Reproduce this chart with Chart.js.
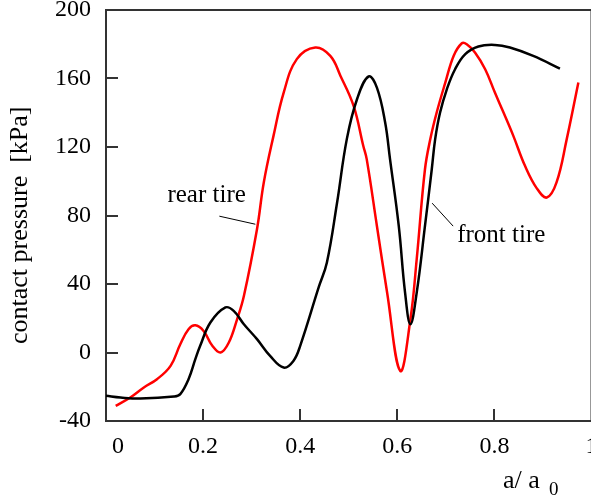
<!DOCTYPE html>
<html>
<head>
<meta charset="utf-8">
<script src="https://cdn.jsdelivr.net/npm/chart.js@4.4.1/dist/chart.umd.min.js"></script>
<style>
  html, body { margin: 0; padding: 0; background: #fff; overflow: hidden; }
  #wrap { width: 600px; height: 500px; }
</style>
</head>
<body>
<div id="wrap"><canvas id="c" width="600" height="500"></canvas></div>
<script>
// ---- data ----
const frontX = [0.000, 0.030, 0.071, 0.140, 0.153, 0.170, 0.184, 0.194, 0.215, 0.246, 0.263, 0.284, 0.311, 0.338, 0.366, 0.386, 0.400, 0.438, 0.455, 0.476, 0.496, 0.517, 0.541, 0.558, 0.575, 0.585, 0.603, 0.616, 0.627, 0.640, 0.657, 0.671, 0.678, 0.688, 0.702, 0.719, 0.740, 0.767, 0.801, 0.832, 0.880, 0.935];
const frontY = [-25.3, -26.3, -26.9, -25.7, -24.3, -15.6, -3.9, 3.9, 17.5, 26.3, 24.3, 16.5, 7.8, -2.0, -8.8, -4.9, 3.9, 38.0, 52.6, 87.6, 124.6, 147.9, 161.2, 154.7, 134.3, 112.9, 73.9, 35.0, 16.5, 35.0, 73.9, 107.0, 124.6, 140.0, 153.7, 165.4, 174.2, 178.7, 179.6, 178.1, 173.2, 165.8];

const rearX = [0.020, 0.050, 0.078, 0.105, 0.133, 0.153, 0.170, 0.184, 0.201, 0.219, 0.236, 0.253, 0.270, 0.284, 0.311, 0.325, 0.345, 0.366, 0.393, 0.431, 0.462, 0.483, 0.510, 0.530, 0.537, 0.558, 0.579, 0.606, 0.627, 0.640, 0.657, 0.668, 0.681, 0.699, 0.716, 0.733, 0.743, 0.760, 0.781, 0.801, 0.819, 0.839, 0.863, 0.887, 0.908, 0.928, 0.949, 0.973];
const rearY = [-31.2, -26.3, -20.4, -15.6, -7.8, 4.8, 13.6, 15.9, 12.6, 3.9, 0.0, 5.8, 19.4, 33.0, 72.0, 99.3, 126.5, 151.8, 171.3, 178.1, 173.2, 161.5, 144.0, 120.6, 112.9, 73.9, 35.0, -10.7, 19.4, 54.5, 107.0, 124.6, 140.0, 157.7, 173.2, 180.6, 180.0, 175.2, 165.4, 151.8, 140.0, 126.5, 109.0, 96.0, 90.5, 99.3, 124.6, 157.7];

const xTickValues = [0, 0.2, 0.4, 0.6, 0.8, 1];
const xTickLabels = ['0', '0.2', '0.4', '0.6', '0.8', '1'];
const yTickLabels = ['-40', '0', '40', '80', '120', '160', '200'];

const seriesNames = ['front tire', 'rear tire'];
const yTitle = 'contact pressure  [kPa]';

// ---- helpers ----
const toPoints = (xs, ys) => xs.map((x, i) => ({ x: x, y: ys[i] }));
const SERIF = '"Liberation Serif", "Times New Roman", serif';
const AX = '#333333';

const extras = {
  id: 'extras',
  afterDraw(chart) {
    const { ctx, chartArea: a, scales } = chart;
    const sx = scales.x, sy = scales.y;
    ctx.save();
    // top and right frame lines
    ctx.strokeStyle = AX;
    ctx.lineWidth = 2;
    ctx.beginPath();
    ctx.moveTo(a.left, a.top);
    ctx.lineTo(a.right, a.top);
    ctx.lineTo(a.right, a.bottom);
    ctx.stroke();

    // annotations with leader lines (data coordinates)
    ctx.fillStyle = '#000';
    ctx.strokeStyle = '#000';
    ctx.lineWidth = 1;
    ctx.font = '25px ' + SERIF;
    ctx.textBaseline = 'alphabetic';
    ctx.textAlign = 'left';
    ctx.fillText(seriesNames[1], sx.getPixelForValue(0.1265), sy.getPixelForValue(87.8));
    ctx.fillText(seriesNames[0], sx.getPixelForValue(0.7233), sy.getPixelForValue(64.4));
    ctx.beginPath();
    ctx.moveTo(sx.getPixelForValue(0.2335), sy.getPixelForValue(79.6));
    ctx.lineTo(sx.getPixelForValue(0.3076), sy.getPixelForValue(74.9));
    ctx.moveTo(sx.getPixelForValue(0.6718), sy.getPixelForValue(87.2));
    ctx.lineTo(sx.getPixelForValue(0.7150), sy.getPixelForValue(73.8));
    ctx.stroke();

    // x axis title a/ a0 with subscript
    ctx.font = '26px ' + SERIF;
    ctx.fillText('a/ a', 503, 488);
    ctx.font = '19px ' + SERIF;
    ctx.fillText('0', 549, 495);
    ctx.restore();
  }
};

new Chart(document.getElementById('c'), {
  type: 'line',
  data: {
    datasets: [
      {
        label: seriesNames[0],
        data: toPoints(frontX, frontY),
        borderColor: '#000000',
        borderWidth: 2.5,
        pointRadius: 0,
        tension: 0.4,
        fill: false
      },
      {
        label: seriesNames[1],
        data: toPoints(rearX, rearY),
        borderColor: '#ff0000',
        borderWidth: 2.5,
        pointRadius: 0,
        tension: 0.4,
        fill: false
      }
    ]
  },
  options: {
    responsive: false,
    animation: false,
    devicePixelRatio: 1,
    layout: { padding: { top: 10, right: 8.5, bottom: 0, left: 0 } },
    plugins: { legend: { display: false }, tooltip: { enabled: false } },
    scales: {
      x: {
        type: 'linear',
        min: 0,
        max: 1,
        afterBuildTicks(scale) { scale.ticks = xTickValues.map(v => ({ value: v })); },
        afterFit(scale) { scale.height = 79; scale.paddingLeft = 0; scale.paddingRight = 0; },
        ticks: {
          autoSkip: false,
          maxRotation: 0,
          padding: 23,
          color: '#000',
          font: { family: SERIF, size: 24, lineHeight: 1.2 },
          callback(v, i) { return i === 0 ? '    ' + xTickLabels[i] : xTickLabels[i]; }
        },
        grid: { drawOnChartArea: false, drawTicks: true, tickLength: -12, color: AX, lineWidth: 2, tickWidth: 2 },
        border: { display: true, color: AX, width: 2 }
      },
      y: {
        type: 'linear',
        min: -40,
        max: 200,
        ticks: {
          stepSize: 40,
          padding: 27,
          color: '#000',
          font: { family: SERIF, size: 24, lineHeight: 1.2 },
          callback(v, i) { return yTickLabels[i]; }
        },
        afterFit(scale) { scale.width = 106; scale.paddingTop = 0; scale.paddingBottom = 0; },
        grid: { drawOnChartArea: false, drawTicks: true, tickLength: -12, color: AX, lineWidth: 2, tickWidth: 2 },
        border: { display: true, color: AX, width: 2 },
        title: {
          display: true,
          text: yTitle + '   ',
          color: '#000',
          padding: { top: 5, bottom: 0 },
          font: { family: SERIF, size: 26, lineHeight: 1.2 }
        }
      }
    }
  },
  plugins: [extras]
});
</script>
</body>
</html>
